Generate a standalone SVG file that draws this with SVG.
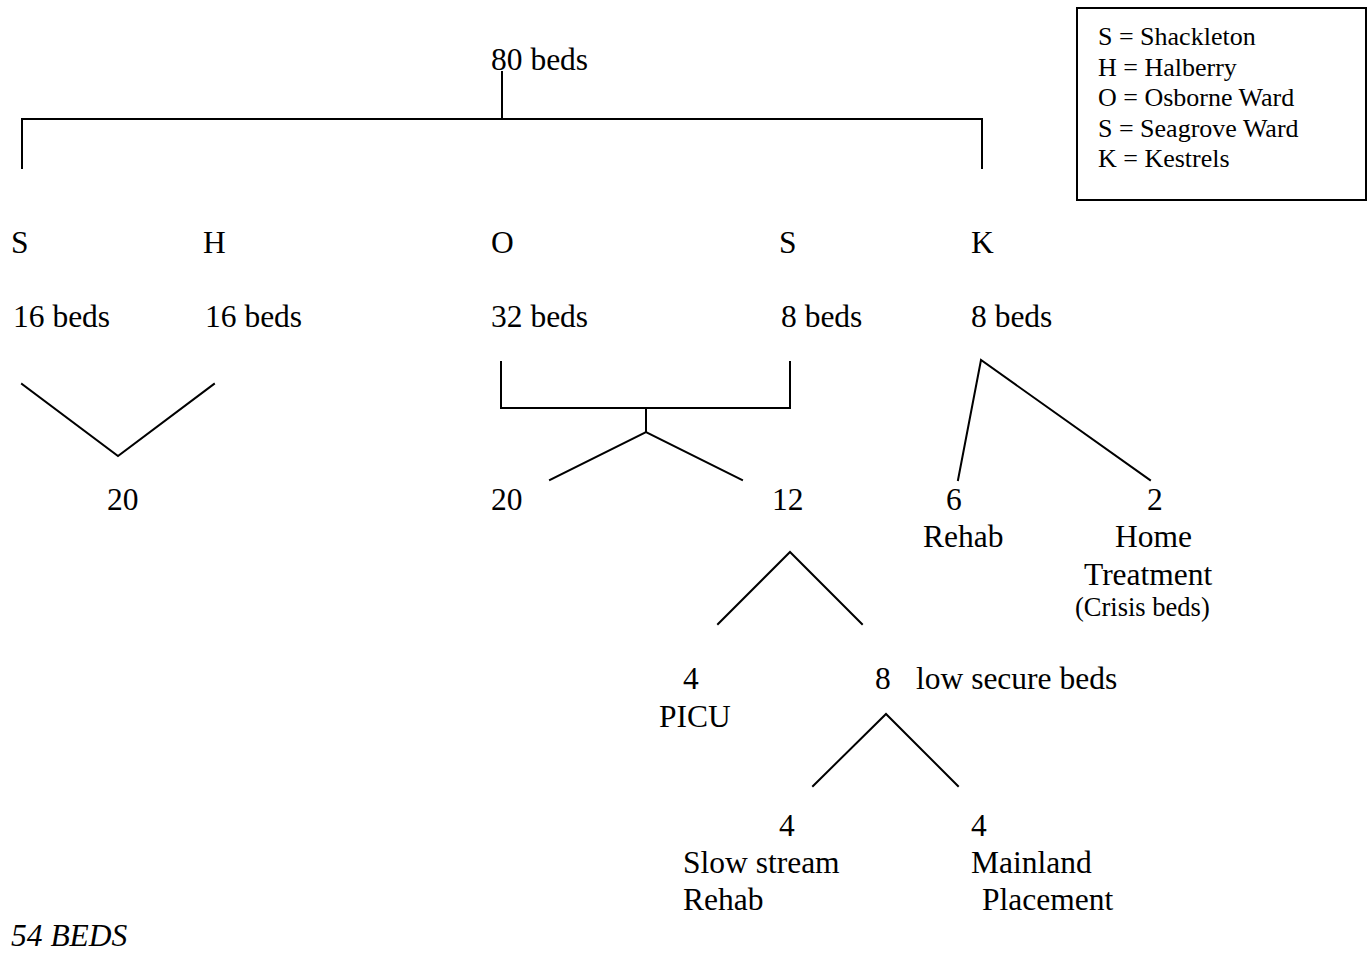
<svg xmlns="http://www.w3.org/2000/svg" width="1371" height="956" viewBox="0 0 1371 956">
<style>
text{font-family:"Liberation Serif","Times New Roman",serif;font-size:31.5px;fill:#000}
.lg{font-size:26px}
.sm{font-size:26.5px}
.it{font-style:italic}
.ln{fill:none;stroke:#000;stroke-width:2;stroke-linecap:square;stroke-linejoin:miter}
</style>
<rect width="1371" height="956" fill="#fff"/>
<g id="legend">
<rect x="1077" y="8" width="289" height="192" fill="none" stroke="#000" stroke-width="2"/>
<text class="lg" x="1098" y="45">S = Shackleton</text>
<text class="lg" x="1098" y="75.5">H = Halberry</text>
<text class="lg" x="1098" y="106">O = Osborne Ward</text>
<text class="lg" x="1098" y="136.5">S = Seagrove Ward</text>
<text class="lg" x="1098" y="167">K = Kestrels</text>
</g>
<g id="connectors">
<path class="ln" d="M502 72V119M22 168V119H982V168"/>
<path class="ln" d="M22 384L118 456L214 384"/>
<path class="ln" d="M501 362V408H790V362M646 408V432M550 480L646 432L742 480"/>
<path class="ln" d="M958 480L981 360L1150 480"/>
<path class="ln" d="M718 624L790 552L862 624"/>
<path class="ln" d="M813 786L886 714L958 786"/>
</g>
<g id="n-root"><text x="491" y="70">80 beds</text></g>
<g id="n-s1"><text x="11" y="253">S</text><text x="13" y="327">16 beds</text></g>
<g id="n-h"><text x="203" y="253">H</text><text x="205" y="327">16 beds</text></g>
<g id="n-o"><text x="491" y="253">O</text><text x="491" y="327">32 beds</text></g>
<g id="n-s2"><text x="779" y="253">S</text><text x="781" y="327">8 beds</text></g>
<g id="n-k"><text x="971" y="253">K</text><text x="971" y="327">8 beds</text></g>
<g id="n-20a"><text x="107" y="510">20</text></g>
<g id="n-20b"><text x="491" y="510">20</text></g>
<g id="n-12"><text x="772" y="510">12</text></g>
<g id="n-6"><text x="946" y="510">6</text><text x="923" y="547">Rehab</text></g>
<g id="n-2"><text x="1147" y="510">2</text><text x="1115" y="547">Home</text><text x="1084" y="585">Treatment</text><text class="sm" x="1075" y="616">(Crisis beds)</text></g>
<g id="n-picu"><text x="683" y="689">4</text><text x="659" y="727">PICU</text></g>
<g id="n-8"><text x="875" y="689">8</text><text x="916" y="689">low secure beds</text></g>
<g id="n-slow"><text x="779" y="836">4</text><text x="683" y="873">Slow stream</text><text x="683" y="910">Rehab</text></g>
<g id="n-main"><text x="971" y="836">4</text><text x="971" y="873">Mainland</text><text x="982" y="910">Placement</text></g>
<g id="total"><text class="it" x="11" y="946">54 BEDS</text></g>
</svg>
